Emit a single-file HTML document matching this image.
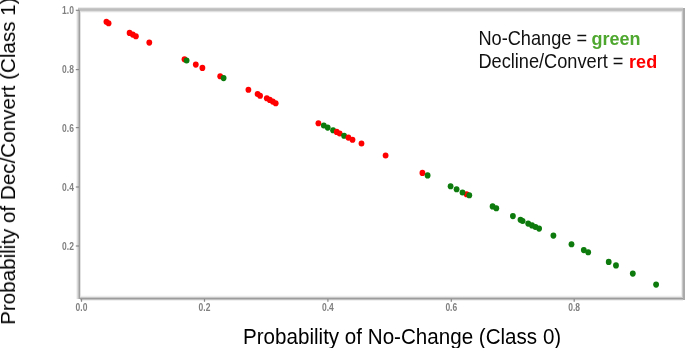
<!DOCTYPE html>
<html><head><meta charset="utf-8">
<style>
html,body{margin:0;padding:0;background:#fff;}
body{width:685px;height:348px;overflow:hidden;position:relative;font-family:"Liberation Sans",sans-serif;}
svg{position:absolute;left:0;top:0;}
.tl{font-family:"Liberation Sans",sans-serif;font-size:8.5px;font-weight:bold;fill:#808080;}
.lab{position:absolute;white-space:nowrap;color:#000;font-size:20.6px;line-height:1;will-change:transform;filter:blur(0.3px);}
.leg{position:absolute;white-space:nowrap;color:#111;filter:blur(0.25px);font-size:18.2px;line-height:22.8px;left:478.4px;transform-origin:0 17.7px;transform:scaleY(1.07);}
.leg b{font-size:18px;display:inline-block;line-height:22.8px;transform-origin:0 17.9px;transform:scaleY(0.975);}
.leg b.g{color:#4ea72e;margin-left:-0.6px;}
.leg b.r{color:#ff0000;margin-left:0.6px;}
</style></head><body>
<svg width="685" height="348" viewBox="0 0 685 348">
<defs>
<filter id="db" filterUnits="userSpaceOnUse" x="0" y="0" width="685" height="348"><feGaussianBlur stdDeviation="0.45"/></filter>
<filter id="tb" filterUnits="userSpaceOnUse" x="0" y="0" width="685" height="348"><feGaussianBlur stdDeviation="0.5"/></filter>
</defs>
<rect x="78" y="7" width="605" height="1" fill="#ececec"/>
<rect x="78" y="8" width="605" height="1" fill="#c6c6c6"/>
<rect x="78" y="9" width="605" height="1" fill="#bdbdbd"/>
<rect x="78" y="10" width="605" height="1" fill="#c2c2c2"/>
<rect x="78" y="11" width="605" height="1" fill="#e0e0e0"/>
<rect x="78" y="12" width="605" height="1" fill="#f7f7f7"/>
<rect x="80" y="295" width="603" height="1" fill="#fafafa"/>
<rect x="80" y="296" width="603" height="1" fill="#ececec"/>
<rect x="80" y="297" width="603" height="1" fill="#c8c8c8"/>
<rect x="80" y="298" width="603" height="1" fill="#9c9c9c"/>
<rect x="80" y="299" width="603" height="1" fill="#c0c0c0"/>
<rect x="80" y="300" width="603" height="1" fill="#f0f0f0"/>
<rect x="681" y="12" width="1" height="284" fill="#eeeeee"/>
<rect x="682" y="11" width="1" height="286" fill="#c8c8c8"/>
<rect x="683" y="8" width="1" height="292" fill="#ababab"/>
<rect x="684" y="8" width="1" height="292" fill="#aaaaaa"/>
<rect x="76" y="10" width="1" height="289" fill="#f2f2f2"/>
<rect x="77" y="10" width="1" height="289" fill="#dadada"/>
<rect x="78" y="10" width="1" height="289" fill="#bebebe"/>
<rect x="79" y="10" width="1" height="289" fill="#a0a0a0"/>
<rect x="80" y="12" width="1" height="285" fill="#e2e2e2"/>
<g filter="url(#tb)">
<rect x="80.9" y="299" width="1.2" height="2.8" fill="#888"/>
<text x="81.5" y="259.14" transform="scale(1,1.2)" text-anchor="middle" class="tl">0.0</text>
<rect x="203.9" y="299" width="1.2" height="2.8" fill="#888"/>
<text x="204.5" y="259.14" transform="scale(1,1.2)" text-anchor="middle" class="tl">0.2</text>
<rect x="327.29999999999995" y="299" width="1.2" height="2.8" fill="#888"/>
<text x="327.9" y="259.14" transform="scale(1,1.2)" text-anchor="middle" class="tl">0.4</text>
<rect x="450.7" y="299" width="1.2" height="2.8" fill="#888"/>
<text x="451.3" y="259.14" transform="scale(1,1.2)" text-anchor="middle" class="tl">0.6</text>
<rect x="573.6" y="299" width="1.2" height="2.8" fill="#888"/>
<text x="574.2" y="259.14" transform="scale(1,1.2)" text-anchor="middle" class="tl">0.8</text>
<rect x="75.8" y="9.700000000000001" width="3.2" height="1.2" fill="#888"/>
<text x="73.9" y="11.47" transform="scale(1,1.2)" text-anchor="end" class="tl">1.0</text>
<rect x="75.8" y="69.0" width="3.2" height="1.2" fill="#888"/>
<text x="73.9" y="60.64" transform="scale(1,1.2)" text-anchor="end" class="tl">0.8</text>
<rect x="75.8" y="127.0" width="3.2" height="1.2" fill="#888"/>
<text x="73.9" y="109.81" transform="scale(1,1.2)" text-anchor="end" class="tl">0.6</text>
<rect x="75.8" y="186.4" width="3.2" height="1.2" fill="#888"/>
<text x="73.9" y="158.97" transform="scale(1,1.2)" text-anchor="end" class="tl">0.4</text>
<rect x="75.8" y="245.4" width="3.2" height="1.2" fill="#888"/>
<text x="73.9" y="207.97" transform="scale(1,1.2)" text-anchor="end" class="tl">0.2</text>
</g>
<g filter="url(#db)">
<ellipse cx="106.4" cy="21.8" rx="2.9" ry="3.07" fill="#ff0000"/>
<ellipse cx="108.6" cy="23.2" rx="2.9" ry="3.07" fill="#ff0000"/>
<ellipse cx="129.6" cy="32.9" rx="2.9" ry="3.07" fill="#ff0000"/>
<ellipse cx="132.8" cy="34.6" rx="2.9" ry="3.07" fill="#ff0000"/>
<ellipse cx="135.9" cy="36.2" rx="2.9" ry="3.07" fill="#ff0000"/>
<ellipse cx="149.3" cy="42.6" rx="2.9" ry="3.07" fill="#ff0000"/>
<ellipse cx="184.5" cy="59.2" rx="2.9" ry="3.07" fill="#ff0000"/>
<ellipse cx="186.6" cy="60.5" rx="2.9" ry="3.07" fill="#087a08"/>
<ellipse cx="195.8" cy="64.6" rx="2.9" ry="3.07" fill="#ff0000"/>
<ellipse cx="202.4" cy="67.9" rx="2.9" ry="3.07" fill="#ff0000"/>
<ellipse cx="220.2" cy="76.2" rx="2.9" ry="3.07" fill="#ff0000"/>
<ellipse cx="223.6" cy="78.1" rx="2.9" ry="3.07" fill="#087a08"/>
<ellipse cx="248.4" cy="89.7" rx="2.9" ry="3.07" fill="#ff0000"/>
<ellipse cx="257.6" cy="94.0" rx="2.9" ry="3.07" fill="#ff0000"/>
<ellipse cx="260.1" cy="95.7" rx="2.9" ry="3.07" fill="#ff0000"/>
<ellipse cx="266.8" cy="98.3" rx="2.9" ry="3.07" fill="#ff0000"/>
<ellipse cx="269.8" cy="99.9" rx="2.9" ry="3.07" fill="#ff0000"/>
<ellipse cx="272.8" cy="101.6" rx="2.9" ry="3.07" fill="#ff0000"/>
<ellipse cx="275.7" cy="103.2" rx="2.9" ry="3.07" fill="#ff0000"/>
<ellipse cx="318.4" cy="123.2" rx="2.9" ry="3.07" fill="#ff0000"/>
<ellipse cx="323.8" cy="125.5" rx="2.9" ry="3.07" fill="#087a08"/>
<ellipse cx="327.7" cy="127.6" rx="2.9" ry="3.07" fill="#087a08"/>
<ellipse cx="333.1" cy="130.3" rx="2.9" ry="3.07" fill="#087a08"/>
<ellipse cx="336.7" cy="131.9" rx="2.9" ry="3.07" fill="#ff0000"/>
<ellipse cx="339.7" cy="133.5" rx="2.9" ry="3.07" fill="#ff0000"/>
<ellipse cx="344.1" cy="135.7" rx="2.9" ry="3.07" fill="#087a08"/>
<ellipse cx="348.4" cy="137.6" rx="2.9" ry="3.07" fill="#ff0000"/>
<ellipse cx="352.5" cy="139.8" rx="2.9" ry="3.07" fill="#ff0000"/>
<ellipse cx="361.5" cy="143.5" rx="2.9" ry="3.07" fill="#ff0000"/>
<ellipse cx="385.6" cy="155.5" rx="2.9" ry="3.07" fill="#ff0000"/>
<ellipse cx="422.4" cy="172.9" rx="2.9" ry="3.07" fill="#ff0000"/>
<ellipse cx="427.6" cy="175.4" rx="2.9" ry="3.07" fill="#087a08"/>
<ellipse cx="450.6" cy="186.2" rx="2.9" ry="3.07" fill="#087a08"/>
<ellipse cx="456.6" cy="189.3" rx="2.9" ry="3.07" fill="#087a08"/>
<ellipse cx="466.6" cy="194.3" rx="2.9" ry="3.07" fill="#ff0000"/>
<ellipse cx="462.5" cy="192.5" rx="2.9" ry="3.07" fill="#087a08"/>
<ellipse cx="469.3" cy="195.2" rx="2.9" ry="3.07" fill="#087a08"/>
<ellipse cx="492.6" cy="206.4" rx="2.9" ry="3.07" fill="#087a08"/>
<ellipse cx="496.3" cy="208.3" rx="2.9" ry="3.07" fill="#087a08"/>
<ellipse cx="512.9" cy="216.1" rx="2.9" ry="3.07" fill="#087a08"/>
<ellipse cx="520.5" cy="219.8" rx="2.9" ry="3.07" fill="#087a08"/>
<ellipse cx="522.6" cy="221.0" rx="2.9" ry="3.07" fill="#087a08"/>
<ellipse cx="528.2" cy="223.6" rx="2.9" ry="3.07" fill="#087a08"/>
<ellipse cx="532.0" cy="225.4" rx="2.9" ry="3.07" fill="#087a08"/>
<ellipse cx="535.5" cy="227.0" rx="2.9" ry="3.07" fill="#087a08"/>
<ellipse cx="539.1" cy="228.6" rx="2.9" ry="3.07" fill="#087a08"/>
<ellipse cx="553.4" cy="235.6" rx="2.9" ry="3.07" fill="#087a08"/>
<ellipse cx="571.5" cy="244.3" rx="2.9" ry="3.07" fill="#087a08"/>
<ellipse cx="583.8" cy="250.1" rx="2.9" ry="3.07" fill="#087a08"/>
<ellipse cx="588.2" cy="252.2" rx="2.9" ry="3.07" fill="#087a08"/>
<ellipse cx="608.7" cy="261.9" rx="2.9" ry="3.07" fill="#087a08"/>
<ellipse cx="616.0" cy="265.4" rx="2.9" ry="3.07" fill="#087a08"/>
<ellipse cx="632.8" cy="273.6" rx="2.9" ry="3.07" fill="#087a08"/>
<ellipse cx="656.1" cy="284.6" rx="2.9" ry="3.07" fill="#087a08"/>
</g>
</svg>
<div class="lab" id="xl" style="left:243.1px;top:326.6px;transform-origin:0 17.4px;transform:scaleY(1.07);">Probability of No-Change (Class 0)</div>
<div class="lab" id="yl" style="left:0;top:0;transform-origin:0 0;transform:translate(-2px,324.8px) rotate(-90deg);">Probability of Dec/Convert (Class 1)</div>
<div class="leg" style="top:28.2px;">No-Change = <b class="g">green</b></div>
<div class="leg" style="top:51.1px;">Decline/Convert = <b class="r">red</b></div>
</body></html>
